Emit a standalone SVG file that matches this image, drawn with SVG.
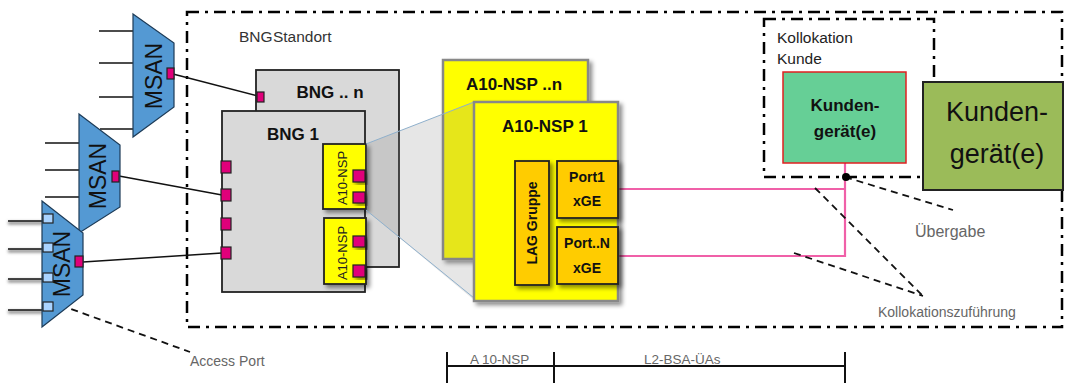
<svg xmlns="http://www.w3.org/2000/svg" width="1065" height="383" viewBox="0 0 1065 383">
<defs>
<filter id="sh" x="-20%" y="-20%" width="140%" height="140%">
<feDropShadow dx="3" dy="3" stdDeviation="2" flood-color="#000" flood-opacity="0.45"/>
</filter>
<filter id="bl" x="-10%" y="-200%" width="120%" height="500%">
<feGaussianBlur stdDeviation="1.5"/>
</filter>
</defs>
<style>
.t{font-family:"Liberation Sans",Arial,sans-serif}
.b{font-family:"Liberation Sans",Arial,sans-serif;font-weight:bold;fill:#111}
.g{fill:#666}
.dd{fill:none;stroke:#000;stroke-width:2.5;stroke-dasharray:12 6 3 6}
.msan{fill:#5499d3;stroke:#1d3b57;stroke-width:1.2}
.ln{stroke:#111;stroke-width:1.5;fill:none}
.pm{fill:#e0007a;stroke:#222;stroke-width:1.2}
.pb{fill:#a9d3ff;stroke:#222;stroke-width:1.2}
.bng{fill:#d9d9d9;stroke:#222;stroke-width:1.8}
.ynsp{fill:#ffff00;stroke:#222;stroke-width:1.8}
.ybig{fill:#ffff00;stroke:#888;stroke-width:2.5}
.or{fill:#ffcc00;stroke:#222;stroke-width:1.8}
.pk{stroke:#f060a8;stroke-width:2.2;fill:none}
.dash{stroke:#111;stroke-width:1.8;stroke-dasharray:7 5;fill:none}
.dim{stroke:#111;stroke-width:2;fill:none}
</style>

<!-- boundaries -->
<g id="bng-standort">
<rect class="dd" x="187" y="12" width="875" height="315"/>
<text class="t" x="239" y="42" font-size="15.5" fill="#333" word-spacing="-4">BNG Standort</text>
</g>
<g id="kollokation-kunde">
<rect class="dd" x="764" y="19" width="170" height="158"/>
<text class="t" x="777" y="43" font-size="15.5" fill="#222">Kollokation</text>
<text class="t" x="777" y="64" font-size="15.5" fill="#222">Kunde</text>
</g>

<!-- connectors -->
<g id="connectors">
<line class="ln" x1="99" y1="31" x2="133" y2="31"/>
<line class="ln" x1="99" y1="63" x2="133" y2="63"/>
<line class="ln" x1="99" y1="97" x2="133" y2="97"/>
<line class="ln" x1="100" y1="129" x2="133" y2="129"/>
<line class="ln" x1="45" y1="143" x2="79" y2="143"/>
<line class="ln" x1="45" y1="170" x2="79" y2="170"/>
<line class="ln" x1="45" y1="197" x2="79" y2="197"/>
<g filter="url(#bl)" stroke="#888" stroke-width="3">
<line x1="8" y1="223" x2="43" y2="223"/>
<line x1="8" y1="251" x2="43" y2="251"/>
<line x1="8" y1="281" x2="43" y2="281"/>
<line x1="8" y1="312" x2="43" y2="312"/>
</g>
<line class="ln" x1="8" y1="221" x2="43" y2="221"/>
<line class="ln" x1="8" y1="249" x2="43" y2="249"/>
<line class="ln" x1="8" y1="279" x2="43" y2="279"/>
<line class="ln" x1="8" y1="310" x2="43" y2="310"/>
<line class="ln" x1="173" y1="74" x2="258" y2="96"/>
<line class="ln" x1="119" y1="176" x2="222" y2="195"/>
<line class="ln" x1="83" y1="262" x2="222" y2="253"/>
<polyline class="pk" points="618,189 845,189"/>
<polyline class="pk" points="618,256 845,256 845,163"/>
<line x1="845" y1="163" x2="848" y2="158" stroke="#e00" stroke-width="1.5"/>
<line class="dash" x1="845" y1="177" x2="953" y2="210"/>
<line class="dash" x1="815" y1="188" x2="923" y2="296"/>
<line class="dash" x1="794" y1="253" x2="923" y2="296"/>
<line class="dash" x1="60" y1="305" x2="190" y2="352"/>
<circle cx="846" cy="177" r="4" fill="#000"/>
</g>

<!-- MSANs -->
<g id="msan-1">
<polygon class="msan" points="133,14 174,43 174,107 133,137"/>
<text class="t" font-size="23" fill="#111" text-anchor="middle" transform="translate(162,76) rotate(-90)">MSAN</text>
<rect class="pm" x="167" y="68" width="7" height="11"/>
</g>
<g id="msan-2">
<polygon class="msan" points="79,114 120,145 120,207 79,233"/>
<text class="t" font-size="23" fill="#111" text-anchor="middle" transform="translate(106,176) rotate(-90)">MSAN</text>
<rect class="pm" x="112" y="171" width="7" height="11"/>
</g>
<g id="msan-3">
<polygon class="msan" points="42,201 83,233 83,295 42,327"/>
<text class="t" font-size="23" fill="#111" text-anchor="middle" transform="translate(70,264) rotate(-90)">MSAN</text>
<rect class="pm" x="75" y="256" width="8" height="11"/>
<rect class="pb" x="43" y="214" width="10" height="9"/>
<rect class="pb" x="43" y="243" width="10" height="9"/>
<rect class="pb" x="43" y="273" width="10" height="9"/>
<rect class="pb" x="43" y="302" width="10" height="9"/>
</g>

<!-- BNGs -->
<g id="bng-n">
<rect class="bng" x="256" y="70" width="143" height="197"/>
<text class="b" x="330" y="98" font-size="17" text-anchor="middle">BNG .. n</text>
<rect class="pm" x="257" y="92" width="7" height="10"/>
</g>
<g id="bng-1">
<rect class="bng" x="222" y="111" width="143" height="181"/>
<text class="b" x="293" y="140" font-size="17" text-anchor="middle">BNG 1</text>
<rect class="pm" x="221" y="161" width="10" height="12"/>
<rect class="pm" x="221" y="189" width="10" height="12"/>
<rect class="pm" x="221" y="218" width="10" height="12"/>
<rect class="pm" x="221" y="247" width="10" height="12"/>
</g>
<g id="bng1-a10nsp-1">
<rect class="ynsp" x="323" y="144" width="43" height="65" filter="url(#sh)"/>
<text class="t" font-size="13" fill="#222" text-anchor="middle" transform="translate(347,178) rotate(-90)">A10-NSP</text>
<rect class="pm" x="353" y="170" width="12" height="12" filter="url(#sh)"/>
<rect class="pm" x="353" y="192" width="12" height="11" filter="url(#sh)"/>
</g>
<g id="bng1-a10nsp-2">
<rect class="ynsp" x="324" y="218" width="42" height="66" filter="url(#sh)"/>
<text class="t" font-size="13" fill="#222" text-anchor="middle" transform="translate(347,253) rotate(-90)">A10-NSP</text>
<rect class="pm" x="353" y="236" width="12" height="11" filter="url(#sh)"/>
<rect class="pm" x="353" y="265" width="12" height="12" filter="url(#sh)"/>
</g>

<!-- A10-NSP big -->
<g id="a10nsp-n">
<rect class="ybig" x="443" y="60" width="145" height="199" filter="url(#sh)"/>
<text class="b" x="466" y="90" font-size="17">A10-NSP ..n</text>
</g>
<g id="zoom-area">
<polygon points="366,144 474,102 474,300 366,210" fill="#808080" fill-opacity="0.2"/>
<line x1="366" y1="144" x2="474" y2="102" stroke="#8fb0cc" stroke-width="1"/>
<line x1="366" y1="210" x2="474" y2="298" stroke="#8fb0cc" stroke-width="1"/>
</g>
<g id="a10nsp-1">
<rect class="ybig" x="474" y="102" width="144" height="199" filter="url(#sh)"/>
<text class="b" x="502" y="132" font-size="17">A10-NSP 1</text>
</g>
<g id="lag-gruppe">
<rect class="or" x="515" y="161" width="34" height="124" filter="url(#sh)"/>
<text class="b" font-size="14" text-anchor="middle" transform="translate(537,223) rotate(-90)">LAG Gruppe</text>
</g>
<g id="port1">
<rect class="or" x="557" y="161" width="61" height="57" filter="url(#sh)"/>
<text class="b" x="587" y="182" font-size="14" text-anchor="middle">Port1</text>
<text class="b" x="587" y="206" font-size="14" text-anchor="middle">xGE</text>
</g>
<g id="portN">
<rect class="or" x="557" y="227" width="61" height="57" filter="url(#sh)"/>
<text class="b" x="587" y="248" font-size="14" text-anchor="middle">Port..N</text>
<text class="b" x="587" y="273" font-size="14" text-anchor="middle">xGE</text>
</g>

<!-- customer devices -->
<g id="kundengeraet-klein">
<rect x="783" y="72" width="123" height="91" fill="#66cf96" stroke="#e02020" stroke-width="1.5"/>
<text class="b" x="845" y="111" font-size="17" text-anchor="middle">Kunden-</text>
<text class="b" x="845" y="137" font-size="17" text-anchor="middle">gerät(e)</text>
</g>
<g id="kundengeraet-gross">
<rect x="923" y="82" width="140" height="108" fill="#9bbb59" stroke="#222" stroke-width="2"/>
<text class="t" x="997" y="121" font-size="27" fill="#111" text-anchor="middle">Kunden-</text>
<text class="t" x="997" y="163" font-size="27" fill="#111" text-anchor="middle">gerät(e)</text>
</g>

<!-- labels -->
<g id="labels">
<text class="t g" x="915" y="237" font-size="16">Übergabe</text>
<text class="t g" x="878" y="317" font-size="14">Kollokationszuführung</text>
<text class="t g" x="190" y="366" font-size="14">Access Port</text>
</g>

<!-- dimension -->
<g id="dimension">
<line class="dim" x1="447" y1="366" x2="845" y2="366"/>
<line class="dim" x1="447" y1="352" x2="447" y2="383"/>
<line class="dim" x1="554" y1="352" x2="554" y2="383"/>
<line class="dim" x1="845" y1="352" x2="845" y2="383"/>
<text class="t g" x="470" y="364" font-size="13.5">A 10-NSP</text>
<text class="t g" x="644" y="364" font-size="13.5">L2-BSA-ÜAs</text>
</g>
</svg>
